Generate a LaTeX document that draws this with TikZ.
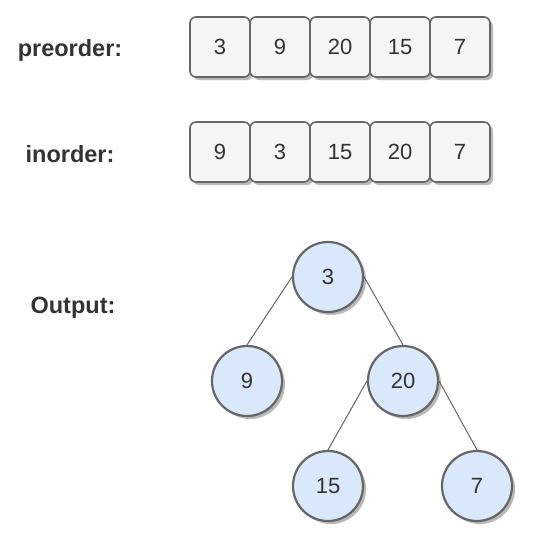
\documentclass[tikz,border=0pt]{standalone}
\usepackage{fontspec}
\setmainfont{Liberation Sans}
\usetikzlibrary{shadows}
\definecolor{txt}{HTML}{333333}
\definecolor{edge}{HTML}{666666}
\definecolor{boxfill}{HTML}{F5F5F5}
\definecolor{nodefill}{HTML}{DAE8FC}
\tikzset{
  cell/.style={draw=edge, fill=boxfill, line width=1.6pt, rounded corners=6pt,
    minimum width=60pt, minimum height=60pt, inner sep=0pt, text=txt,
    font=\fontsize{22}{26}\selectfont,
    drop shadow={shadow xshift=3pt, shadow yshift=-3pt, opacity=0.5, fill=black!55}},
  tnode/.style={circle, draw=edge, fill=nodefill, line width=2.2pt,
    minimum size=70pt, inner sep=0pt, text=txt,
    font=\fontsize{22}{26}\selectfont,
    drop shadow={shadow xshift=3pt, shadow yshift=-3pt, opacity=0.5, fill=black!55}},
  lbl/.style={anchor=base, text=txt, font=\fontsize{23.5}{28}\selectfont\bfseries, inner sep=0pt},
  link/.style={draw=edge, line width=1pt}
}
\begin{document}
\begin{tikzpicture}[x=1pt, y=-1pt]
\useasboundingbox (0,0) rectangle (559,539);
\node[lbl] (lpre) at (70,56) {preorder:};
\node[lbl] (lin) at (70,162) {inorder:};
\node[lbl] (lout) at (73,313) {Output:};
% preorder row
\node[cell] (p1) at (220,47) {3};
\node[cell] (p2) at (280,47) {9};
\node[cell] (p3) at (340,47) {20};
\node[cell] (p4) at (400,47) {15};
\node[cell] (p5) at (460,47) {7};
% inorder row
\node[cell] (i1) at (220,152) {9};
\node[cell] (i2) at (280,152) {3};
\node[cell] (i3) at (340,152) {15};
\node[cell] (i4) at (400,152) {20};
\node[cell] (i5) at (460,152) {7};
% tree
\node[tnode] (r) at (328,277) {3};
\node[tnode] (a) at (247,381) {9};
\node[tnode] (b) at (403,381) {20};
\node[tnode] (c) at (328,486) {15};
\node[tnode] (d) at (477,486) {7};
\draw[link] (r.west) -- (a.north);
\draw[link] (r.east) -- (b.north);
\draw[link] (b.west) -- (c.north);
\draw[link] (b.east) -- (d.north);
\end{tikzpicture}
\end{document}
